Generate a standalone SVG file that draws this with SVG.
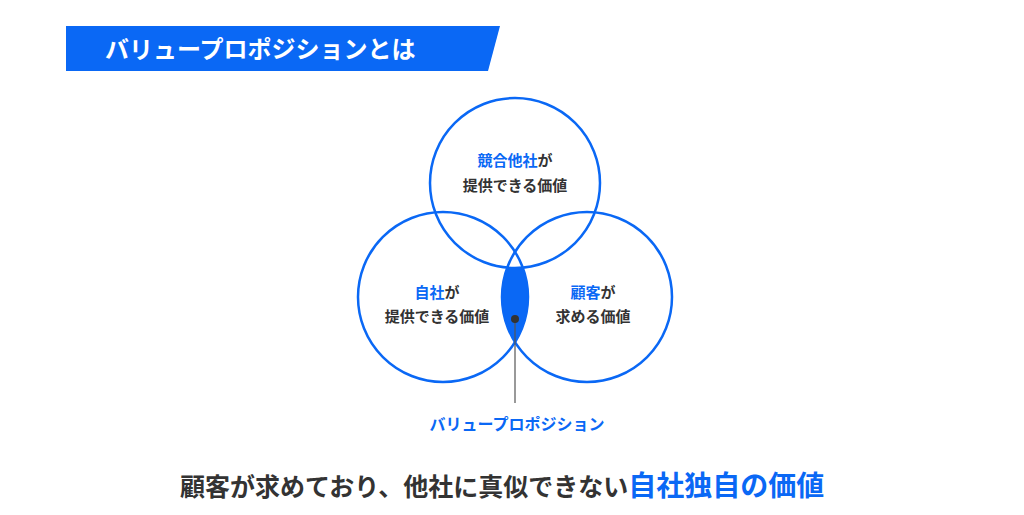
<svg xmlns="http://www.w3.org/2000/svg" width="1024" height="515" viewBox="0 0 1024 515">
<style>
text{font-family:"Noto Sans CJK JP","Noto Sans",sans-serif;font-weight:bold}
.c{fill:none;stroke:#0a68f5;stroke-width:2.5}
.b{fill:#0a68f5}
.d{fill:#333}
.s{font-size:15px;text-anchor:middle}
</style>
<rect width="1024" height="515" fill="#fff"/>
<g id="title">
<polygon points="66,26 500,26 488,71 66,71" fill="#0a68f5"/>
<text x="105" y="58" font-size="24" fill="#fff">バリュープロポジションとは</text>
</g>
<g id="vp-fill">
<path d="M515,251.8 A85,85 0 0 1 515,342.2 A85,85 0 0 1 515,251.8 Z" fill="#0a68f5"/>
</g>
<g id="competitor">
<circle cx="515" cy="183" r="85" fill="#fff" stroke="#0a68f5" stroke-width="2.5"/>
<text class="s d" x="515" y="166"><tspan class="b">競合他社</tspan>が</text>
<text class="s d" x="515" y="191" font-size="14">提供できる価値</text>
</g>
<g id="self">
<circle class="c" cx="443" cy="297" r="85"/>
<text class="s d" x="437" y="298"><tspan class="b">自社</tspan>が</text>
<text class="s d" x="437" y="322" font-size="14">提供できる価値</text>
</g>
<g id="customer">
<circle class="c" cx="587" cy="297" r="85"/>
<text class="s d" x="593" y="298"><tspan class="b">顧客</tspan>が</text>
<text class="s d" x="593" y="322" font-size="14">求める価値</text>
</g>
<g id="connectors">
<line x1="515" y1="319" x2="515" y2="403" stroke="#555" stroke-width="1.2"/>
<circle cx="515" cy="319" r="4" fill="#333"/>
</g>
<g id="vp-label">
<text x="517" y="430" font-size="16" text-anchor="middle" class="b">バリュープロポジション</text>
</g>
<g id="summary">
<text x="180" y="496" font-size="25" class="d">顧客が求めており、他社に真似できない<tspan class="b" font-size="28">自社独自の価値</tspan></text>
</g>
</svg>
